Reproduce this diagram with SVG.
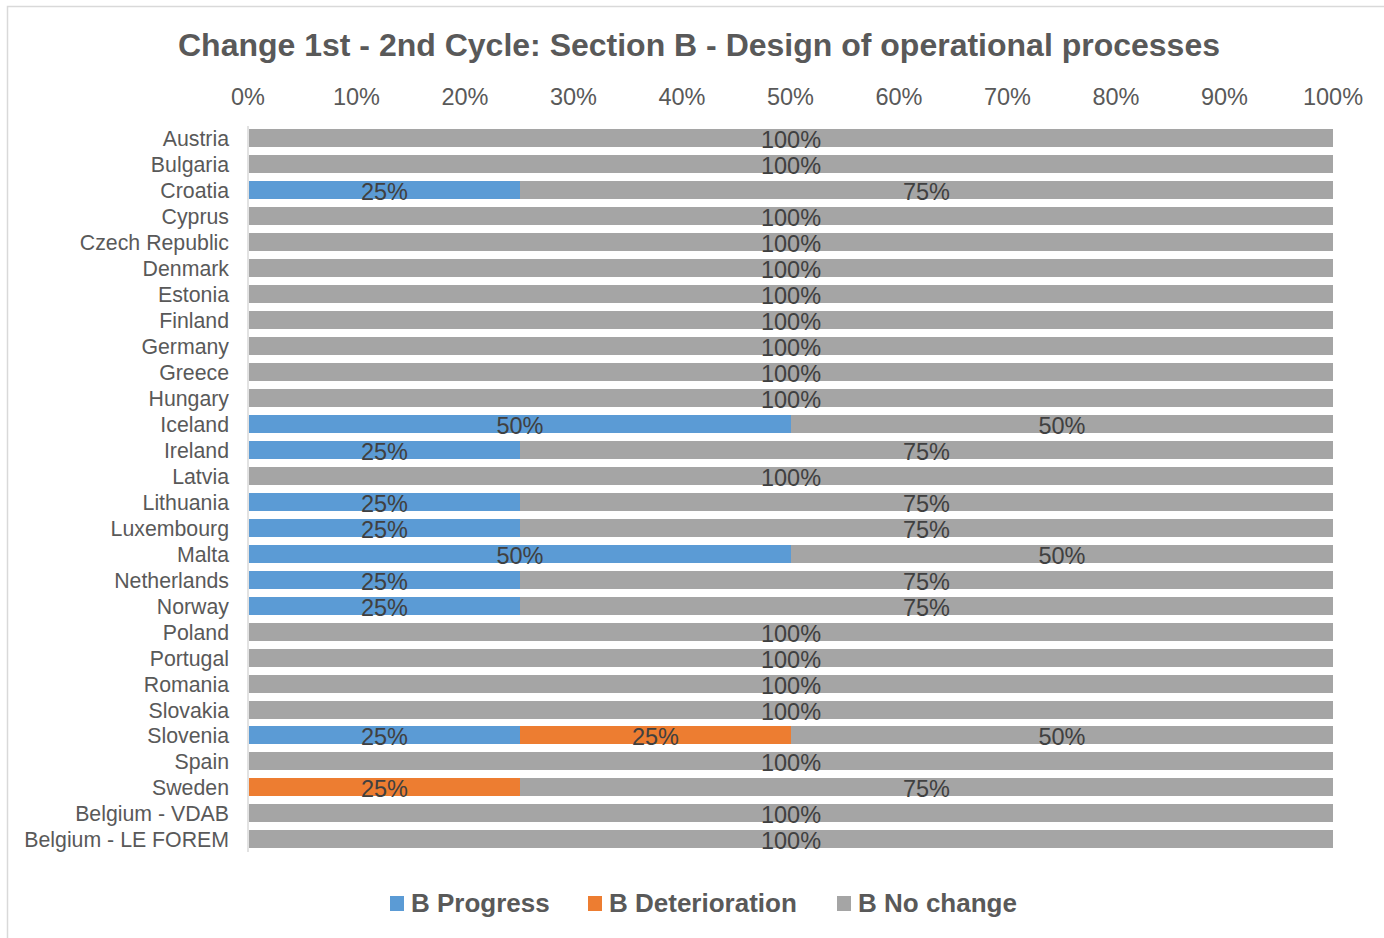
<svg xmlns="http://www.w3.org/2000/svg" width="1384" height="938" viewBox="0 0 1384 938">
  <style>
    .title { font-family: "Liberation Sans", Arial, sans-serif; font-size: 32px; font-weight: bold; fill: #595959; }
    .tick { font-family: "Liberation Sans", Arial, sans-serif; font-size: 23.5px; fill: #595959; text-anchor: middle; }
    .cat { font-family: "Liberation Sans", Arial, sans-serif; font-size: 21.3px; fill: #595959; text-anchor: end; }
    .val { font-family: "Liberation Sans", Arial, sans-serif; font-size: 23.5px; fill: #404040; text-anchor: middle; }
    .leg { font-family: "Liberation Sans", Arial, sans-serif; font-size: 26px; font-weight: bold; fill: #595959; }
    .p { fill: #5b9bd5; }
    .d { fill: #ed7d31; }
    .n { fill: #a5a5a5; }
  </style>
  <rect x="0" y="0" width="1384" height="938" fill="#ffffff"/>
  <!-- chart frame -->
  <path d="M7.5,938 V6.5 H1384" fill="none" stroke="#d9d9d9" stroke-width="1.5"/>

  <text class="title" x="699" y="56" text-anchor="middle">Change 1st - 2nd Cycle: Section B - Design of operational processes</text>

  <!-- value axis labels -->
  <g id="axis-x">
    <text class="tick" x="248" y="105">0%</text>
    <text class="tick" x="356.5" y="105">10%</text>
    <text class="tick" x="465" y="105">20%</text>
    <text class="tick" x="573.5" y="105">30%</text>
    <text class="tick" x="682" y="105">40%</text>
    <text class="tick" x="790.5" y="105">50%</text>
    <text class="tick" x="899" y="105">60%</text>
    <text class="tick" x="1007.5" y="105">70%</text>
    <text class="tick" x="1116" y="105">80%</text>
    <text class="tick" x="1224.5" y="105">90%</text>
    <text class="tick" x="1333" y="105">100%</text>
  </g>

  <!-- category axis line -->
  <g id="axis-y">
    <line x1="248" y1="126" x2="248" y2="852" stroke="#d9d9d9" stroke-width="1.5"/>
  </g>

  <!-- bars: 0% at x=249, 100% at x=1333, row pitch 25.96 -->
  <g id="row-austria"><text class="cat" x="229" y="146">Austria</text><rect class="n" x="249" y="129" width="1084" height="18"/><text class="val" x="791" y="147.5">100%</text></g>
  <g id="row-bulgaria"><text class="cat" x="229" y="172">Bulgaria</text><rect class="n" x="249" y="155" width="1084" height="18"/><text class="val" x="791" y="173.5">100%</text></g>
  <g id="row-croatia"><text class="cat" x="229" y="198">Croatia</text><rect class="p" x="249" y="181" width="271" height="18"/><rect class="n" x="520" y="181" width="813" height="18"/><text class="val" x="384.5" y="199.5">25%</text><text class="val" x="926.5" y="199.5">75%</text></g>
  <g id="row-cyprus"><text class="cat" x="229" y="224">Cyprus</text><rect class="n" x="249" y="207" width="1084" height="18"/><text class="val" x="791" y="225.5">100%</text></g>
  <g id="row-czech"><text class="cat" x="229" y="250">Czech Republic</text><rect class="n" x="249" y="233" width="1084" height="18"/><text class="val" x="791" y="251.5">100%</text></g>
  <g id="row-denmark"><text class="cat" x="229" y="276">Denmark</text><rect class="n" x="249" y="259" width="1084" height="18"/><text class="val" x="791" y="277.5">100%</text></g>
  <g id="row-estonia"><text class="cat" x="229" y="302">Estonia</text><rect class="n" x="249" y="285" width="1084" height="18"/><text class="val" x="791" y="303.5">100%</text></g>
  <g id="row-finland"><text class="cat" x="229" y="328">Finland</text><rect class="n" x="249" y="311" width="1084" height="18"/><text class="val" x="791" y="329.5">100%</text></g>
  <g id="row-germany"><text class="cat" x="229" y="354">Germany</text><rect class="n" x="249" y="337" width="1084" height="18"/><text class="val" x="791" y="355.5">100%</text></g>
  <g id="row-greece"><text class="cat" x="229" y="380">Greece</text><rect class="n" x="249" y="363" width="1084" height="18"/><text class="val" x="791" y="381.5">100%</text></g>
  <g id="row-hungary"><text class="cat" x="229" y="406">Hungary</text><rect class="n" x="249" y="389" width="1084" height="18"/><text class="val" x="791" y="407.5">100%</text></g>
  <g id="row-iceland"><text class="cat" x="229" y="432">Iceland</text><rect class="p" x="249" y="415" width="542" height="18"/><rect class="n" x="791" y="415" width="542" height="18"/><text class="val" x="520" y="433.5">50%</text><text class="val" x="1062" y="433.5">50%</text></g>
  <g id="row-ireland"><text class="cat" x="229" y="458">Ireland</text><rect class="p" x="249" y="441" width="271" height="18"/><rect class="n" x="520" y="441" width="813" height="18"/><text class="val" x="384.5" y="459.5">25%</text><text class="val" x="926.5" y="459.5">75%</text></g>
  <g id="row-latvia"><text class="cat" x="229" y="484">Latvia</text><rect class="n" x="249" y="467" width="1084" height="18"/><text class="val" x="791" y="485.5">100%</text></g>
  <g id="row-lithuania"><text class="cat" x="229" y="510">Lithuania</text><rect class="p" x="249" y="493" width="271" height="18"/><rect class="n" x="520" y="493" width="813" height="18"/><text class="val" x="384.5" y="511.5">25%</text><text class="val" x="926.5" y="511.5">75%</text></g>
  <g id="row-luxembourg"><text class="cat" x="229" y="536">Luxembourg</text><rect class="p" x="249" y="519" width="271" height="18"/><rect class="n" x="520" y="519" width="813" height="18"/><text class="val" x="384.5" y="537.5">25%</text><text class="val" x="926.5" y="537.5">75%</text></g>
  <g id="row-malta"><text class="cat" x="229" y="562">Malta</text><rect class="p" x="249" y="545" width="542" height="18"/><rect class="n" x="791" y="545" width="542" height="18"/><text class="val" x="520" y="563.5">50%</text><text class="val" x="1062" y="563.5">50%</text></g>
  <g id="row-netherlands"><text class="cat" x="229" y="588">Netherlands</text><rect class="p" x="249" y="571" width="271" height="18"/><rect class="n" x="520" y="571" width="813" height="18"/><text class="val" x="384.5" y="589.5">25%</text><text class="val" x="926.5" y="589.5">75%</text></g>
  <g id="row-norway"><text class="cat" x="229" y="614">Norway</text><rect class="p" x="249" y="597" width="271" height="18"/><rect class="n" x="520" y="597" width="813" height="18"/><text class="val" x="384.5" y="615.5">25%</text><text class="val" x="926.5" y="615.5">75%</text></g>
  <g id="row-poland"><text class="cat" x="229" y="640">Poland</text><rect class="n" x="249" y="623" width="1084" height="18"/><text class="val" x="791" y="641.5">100%</text></g>
  <g id="row-portugal"><text class="cat" x="229" y="666">Portugal</text><rect class="n" x="249" y="649" width="1084" height="18"/><text class="val" x="791" y="667.5">100%</text></g>
  <g id="row-romania"><text class="cat" x="229" y="692">Romania</text><rect class="n" x="249" y="675" width="1084" height="18"/><text class="val" x="791" y="693.5">100%</text></g>
  <g id="row-slovakia"><text class="cat" x="229" y="718">Slovakia</text><rect class="n" x="249" y="701" width="1084" height="18"/><text class="val" x="791" y="719.5">100%</text></g>
  <g id="row-slovenia"><text class="cat" x="229" y="743">Slovenia</text><rect class="p" x="249" y="726" width="271" height="18"/><rect class="d" x="520" y="726" width="271" height="18"/><rect class="n" x="791" y="726" width="542" height="18"/><text class="val" x="384.5" y="744.5">25%</text><text class="val" x="655.5" y="744.5">25%</text><text class="val" x="1062" y="744.5">50%</text></g>
  <g id="row-spain"><text class="cat" x="229" y="769">Spain</text><rect class="n" x="249" y="752" width="1084" height="18"/><text class="val" x="791" y="770.5">100%</text></g>
  <g id="row-sweden"><text class="cat" x="229" y="795">Sweden</text><rect class="d" x="249" y="778" width="271" height="18"/><rect class="n" x="520" y="778" width="813" height="18"/><text class="val" x="384.5" y="796.5">25%</text><text class="val" x="926.5" y="796.5">75%</text></g>
  <g id="row-belgium-vdab"><text class="cat" x="229" y="821">Belgium - VDAB</text><rect class="n" x="249" y="804" width="1084" height="18"/><text class="val" x="791" y="822.5">100%</text></g>
  <g id="row-belgium-forem"><text class="cat" x="229" y="847">Belgium - LE FOREM</text><rect class="n" x="249" y="830" width="1084" height="18"/><text class="val" x="791" y="848.5">100%</text></g>

  <!-- legend -->
  <g id="legend">
    <rect class="p" x="390" y="896" width="14" height="15"/>
    <text class="leg" x="411" y="912">B Progress</text>
    <rect class="d" x="588" y="896" width="14" height="15"/>
    <text class="leg" x="609" y="912">B Deterioration</text>
    <rect class="n" x="837" y="896" width="14" height="15"/>
    <text class="leg" x="858" y="912">B No change</text>
  </g>
</svg>
